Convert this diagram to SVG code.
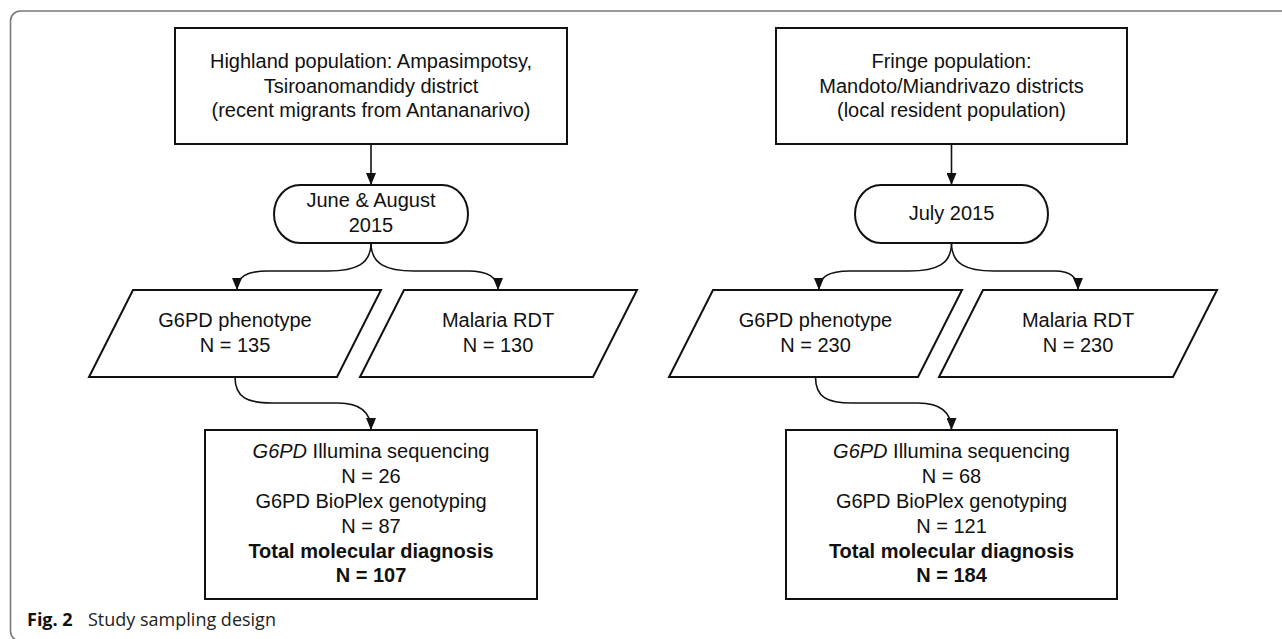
<svg xmlns="http://www.w3.org/2000/svg" width="1282" height="639" viewBox="0 0 1282 639">
<style>
.box{fill:#fff;stroke:#111;stroke-width:2}
.t{font-family:"Liberation Sans",Arial,sans-serif;font-size:20px;fill:#111;text-anchor:middle}
.b{font-weight:bold}
.i{font-style:italic}
.c{fill:none;stroke:#111;stroke-width:1.6}
.cap{font-family:"Open Sans","Liberation Sans",sans-serif;font-size:18px;fill:#222}
</style>
<defs>
<marker id="ah" markerUnits="userSpaceOnUse" markerWidth="12" markerHeight="10" viewBox="0 0 12 10" refX="12" refY="5" orient="auto">
<path d="M0,0 L12,5 L0,10 z" fill="#111"/>
</marker>
</defs>
<rect x="10.5" y="11" width="1290" height="630" rx="10" fill="#fff" stroke="#7a7a7a" stroke-width="1.6"/>

<g id="connectors">
<path class="c" d="M371,144 L371,185" marker-end="url(#ah)"/>
<path class="c" d="M371,243 C371,264 356,271 328,271 L268,271 C246,271 237,277 237,290" marker-end="url(#ah)"/>
<path class="c" d="M371,243 C371,264 386,271 414,271 L468,271 C488,271 498,277 498,290" marker-end="url(#ah)"/>
<path class="c" d="M235,377 C235,398 248,403 272,403 L338,403 C360,403 371,412 371,430" marker-end="url(#ah)"/>
<path class="c" d="M951.5,144 L951.5,185" marker-end="url(#ah)"/>
<path class="c" d="M951.5,243 C951.5,264 937,271 909,271 L850,271 C828,271 819,277 819,290" marker-end="url(#ah)"/>
<path class="c" d="M951.5,243 C951.5,264 966,271 994,271 L1055,271 C1070,271 1078,277 1078,290" marker-end="url(#ah)"/>
<path class="c" d="M815.5,377 C815.5,398 828,403 852,403 L918,403 C940,403 951.5,412 951.5,430" marker-end="url(#ah)"/>
</g>

<g id="highland">
<rect class="box" x="175" y="28" width="392" height="116"/>
<text class="t" x="371" y="68">Highland population: Ampasimpotsy,</text>
<text class="t" x="371" y="93">Tsiroanomandidy district</text>
<text class="t" x="371" y="117">(recent migrants from Antananarivo)</text>
</g>
<g id="june-august">
<rect class="box" x="274" y="185" width="194" height="58" rx="26" ry="29"/>
<text class="t" x="371" y="207">June &amp; August</text>
<text class="t" x="371" y="232">2015</text>
</g>
<g id="g6pd-phenotype-left">
<polygon class="box" points="133,290 381,290 337,377 89,377"/>
<text class="t" x="235" y="327">G6PD phenotype</text>
<text class="t" x="235" y="351.5">N = 135</text>
</g>
<g id="malaria-rdt-left">
<polygon class="box" points="404,290 637,290 593,377 360,377"/>
<text class="t" x="498" y="327">Malaria RDT</text>
<text class="t" x="498" y="351.5">N = 130</text>
</g>
<g id="molecular-left">
<rect class="box" x="205" y="430" width="332" height="169"/>
<text class="t" x="371" y="458"><tspan class="i">G6PD</tspan> Illumina sequencing</text>
<text class="t" x="371" y="483">N = 26</text>
<text class="t" x="371" y="508">G6PD BioPlex genotyping</text>
<text class="t" x="371" y="533">N = 87</text>
<text class="t b" x="371" y="557.5">Total molecular diagnosis</text>
<text class="t b" x="371" y="582">N = 107</text>
</g>

<g id="fringe">
<rect class="box" x="776" y="28" width="351" height="116"/>
<text class="t" x="951.5" y="68">Fringe population:</text>
<text class="t" x="951.5" y="93">Mandoto/Miandrivazo districts</text>
<text class="t" x="951.5" y="117">(local resident population)</text>
</g>
<g id="july">
<rect class="box" x="855" y="185" width="193" height="58" rx="26" ry="29"/>
<text class="t" x="951.5" y="220">July 2015</text>
</g>
<g id="g6pd-phenotype-right">
<polygon class="box" points="713,290 962,290 918,377 669,377"/>
<text class="t" x="815.5" y="327">G6PD phenotype</text>
<text class="t" x="815.5" y="351.5">N = 230</text>
</g>
<g id="malaria-rdt-right">
<polygon class="box" points="983,290 1217,290 1173,377 939,377"/>
<text class="t" x="1078" y="327">Malaria RDT</text>
<text class="t" x="1078" y="351.5">N = 230</text>
</g>
<g id="molecular-right">
<rect class="box" x="786" y="430" width="331" height="169"/>
<text class="t" x="951.5" y="458"><tspan class="i">G6PD</tspan> Illumina sequencing</text>
<text class="t" x="951.5" y="483">N = 68</text>
<text class="t" x="951.5" y="508">G6PD BioPlex genotyping</text>
<text class="t" x="951.5" y="533">N = 121</text>
<text class="t b" x="951.5" y="557.5">Total molecular diagnosis</text>
<text class="t b" x="951.5" y="582">N = 184</text>
</g>

<text class="cap" x="27" y="626"><tspan font-weight="bold" fill="#111">Fig. 2</tspan><tspan x="88">Study sampling design</tspan></text>
</svg>
